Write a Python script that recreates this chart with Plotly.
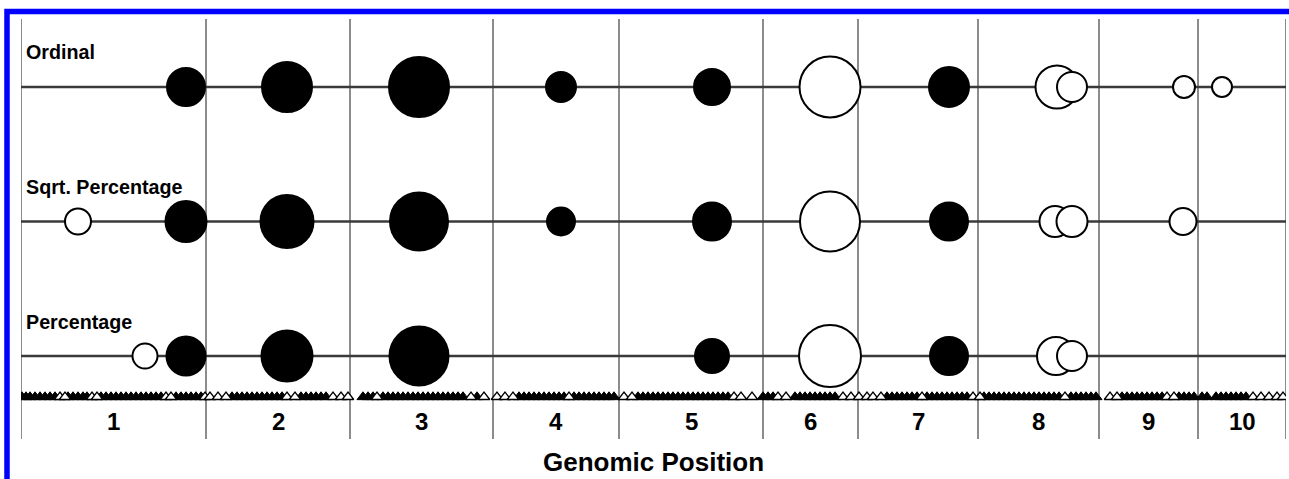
import plotly.graph_objects as go

# ---------------- data ----------------
chrom_labels = ["1", "2", "3", "4", "5", "6", "7", "8", "9", "10"]
chrom_bounds = [0, 185, 329, 472, 598, 742, 837, 957, 1078, 1177, 1265]

row_names = ["Ordinal", "Sqrt. Percentage", "Percentage"]
row_levels = [2, 1, 0]

ordinal_pos = [165, 266, 398, 540, 691, 809, 928, 1036, 1051, 1163, 1201]
ordinal_size = [38, 50, 60, 30, 36, 61, 40, 43, 30, 22, 20]
ordinal_filled = [1, 1, 1, 1, 1, 0, 1, 0, 0, 0, 0]

sqrt_pos = [57, 165, 266, 398, 540, 691, 809, 928, 1034, 1051, 1162]
sqrt_size = [26, 41, 53, 58, 28, 38, 60, 38, 31, 31, 27]
sqrt_filled = [0, 1, 1, 1, 1, 1, 0, 1, 0, 0, 0]

pct_pos = [124, 165, 266, 398, 691, 809, 928, 1035, 1051]
pct_size = [25, 39, 51, 59, 34, 62, 38, 38, 30]
pct_filled = [0, 1, 1, 1, 1, 0, 1, 0, 0]

# marker (SNP) positions along the genome
markers_solid = [
    1, 5, 9, 14, 19, 24, 29, 34, 47, 52, 57, 62, 66, 80, 85, 90, 95, 100, 105, 110,
    115, 120, 125, 130, 135, 140, 155, 160, 165, 170, 175, 180,
    211, 216, 221, 226, 231, 236, 241, 246, 251, 256, 261, 280, 285, 290, 295, 300, 305,
    342, 347, 352, 362, 367, 372, 377, 382, 387, 392, 397, 402, 407, 412, 417, 422, 427,
    432, 437, 442, 456,
    498, 503, 508, 513, 518, 523, 528, 533, 538, 543, 553, 558, 563, 568, 573, 578, 583,
    588, 593,
    617, 622, 627, 632, 637, 642, 647, 652, 657, 662, 667, 672, 677, 682, 687, 692, 697,
    702, 707,
    742, 747, 752, 774, 779, 784, 789, 794, 799, 804, 809, 814,
    866, 871, 876, 881, 886, 891, 896, 906, 911, 916, 921, 926, 931, 936, 941, 946,
    963, 968, 973, 978, 983, 988, 993, 998, 1003, 1008, 1013, 1018, 1023, 1028, 1033,
    1038, 1050, 1055, 1060, 1065, 1070, 1075,
    1101, 1106, 1111, 1116, 1121, 1126, 1131, 1136, 1141, 1158, 1163, 1168, 1173, 1181,
    1186,
    1195, 1200, 1205, 1210, 1215, 1220, 1225,
]
markers_open = [
    39, 44, 71, 76, 145, 150, 184,
    189, 197, 205, 266, 274, 312, 320, 327,
    356, 450, 463,
    476, 484, 492, 548,
    603, 611, 713, 720, 731,
    757, 765, 822, 830, 838, 846,
    852, 860, 901,
    952, 959, 1044,
    1089, 1096, 1146, 1153,
    1232, 1240, 1248, 1256, 1262,
]
marker_level = -0.305

# ---------------- figure ----------------
FONT = "Liberation Sans, Arial, Helvetica, sans-serif"
fig = go.Figure()

shapes = []
# chromosome boundaries
for b in chrom_bounds:
    shapes.append(dict(type="line", xref="x", yref="paper", x0=b, x1=b, y0=0, y1=1,
                       line=dict(color="#8c8c8c", width=2), layer="below"))
# row lines
for lv in row_levels:
    shapes.append(dict(type="line", xref="x", yref="y", x0=chrom_bounds[0], x1=chrom_bounds[-1],
                       y0=lv, y1=lv, line=dict(color="#3a3a3a", width=2.5), layer="below"))
# blue frame
shapes.append(dict(type="rect", xref="paper", yref="paper",
                   x0=-0.01107, x1=1.02, y0=1.0179, y1=-0.14,
                   line=dict(color="#0000ff", width=5.5), fillcolor="rgba(0,0,0,0)"))

rows = [(ordinal_pos, ordinal_size, ordinal_filled, row_levels[0]),
        (sqrt_pos, sqrt_size, sqrt_filled, row_levels[1]),
        (pct_pos, pct_size, pct_filled, row_levels[2])]
for pos, size, filled, lv in rows:
    fig.add_trace(go.Scatter(
        x=pos, y=[lv] * len(pos), mode="markers", showlegend=False, hoverinfo="skip",
        marker=dict(size=size, color=["black" if f else "white" for f in filled],
                    line=dict(color="black", width=2), opacity=1),
    ))

fig.add_trace(go.Scatter(
    x=markers_solid, y=[marker_level] * len(markers_solid), mode="markers",
    showlegend=False, hoverinfo="skip",
    marker=dict(symbol="triangle-up", size=10.5, color="black", line=dict(color="black", width=1)),
))
fig.add_trace(go.Scatter(
    x=markers_open, y=[marker_level] * len(markers_open), mode="markers",
    showlegend=False, hoverinfo="skip",
    marker=dict(symbol="triangle-up", size=10, color="white", line=dict(color="black", width=1.3)),
))

annotations = []
label_offsets = [0.257, 0.26, 0.2565]
for name, lv, off in zip(row_names, row_levels, label_offsets):
    annotations.append(dict(text=f"<b>{name}</b>", x=3, y=lv + off, xref="x", yref="y",
                            xanchor="left", yanchor="middle", showarrow=False,
                            font=dict(family=FONT, size=19.7, color="black")))
for i, lab in enumerate(chrom_labels):
    mid = (chrom_bounds[i] + chrom_bounds[i + 1]) / 2
    annotations.append(dict(text=f"<b>{lab}</b>", x=mid, y=-0.49, xref="x", yref="y",
                            xanchor="center", yanchor="middle", showarrow=False,
                            font=dict(family=FONT, size=24, color="black")))
annotations.append(dict(text="<b>Genomic Position</b>", x=0.5, y=-0.055, xref="paper", yref="paper",
                        xanchor="center", yanchor="middle", showarrow=False,
                        font=dict(family=FONT, size=26, color="black")))

fig.update_layout(
    width=1289, height=479,
    margin=dict(l=21, r=3, t=19, b=40),
    paper_bgcolor="white", plot_bgcolor="white",
    xaxis=dict(range=[chrom_bounds[0], chrom_bounds[-1]], visible=False, fixedrange=True),
    yaxis=dict(range=[-0.6171, 2.5056], visible=False, fixedrange=True),
    shapes=shapes, annotations=annotations,
)

fig.write_html("out.html", config={"displayModeBar": False},
               post_script="document.body.style.margin='0px';document.body.style.overflow='hidden';")
